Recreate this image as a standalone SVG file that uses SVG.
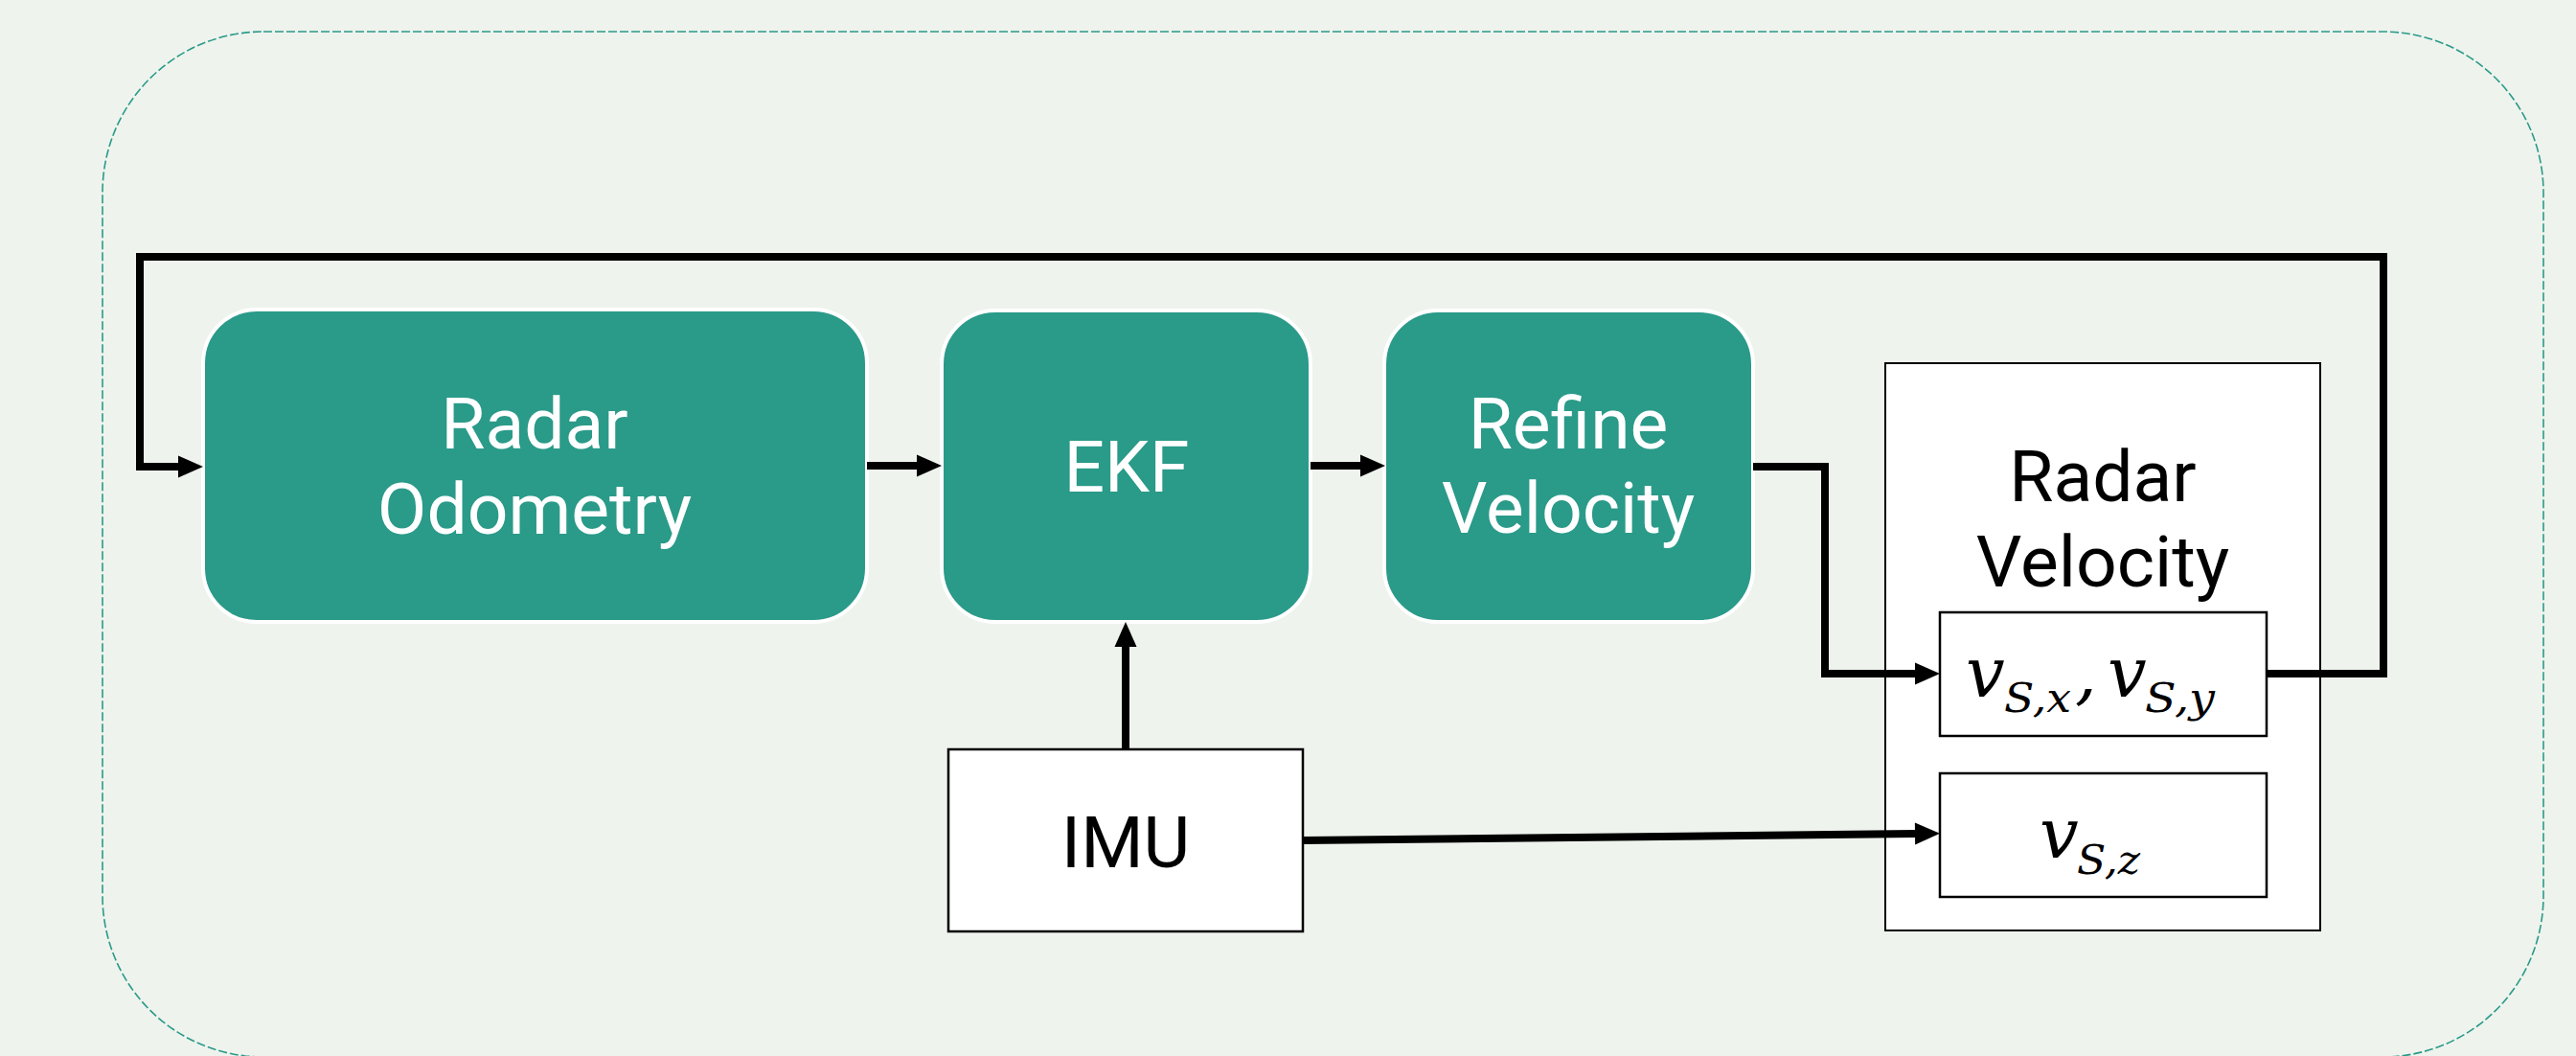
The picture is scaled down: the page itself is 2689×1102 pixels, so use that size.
<svg xmlns="http://www.w3.org/2000/svg" width="2689" height="1102" viewBox="0 0 2689 1102">
  <style>
    .proc { fill: #2A9A89; stroke: #FFFFFF; stroke-width: 4; }
    .plain { fill: #FFFFFF; stroke: #000000; stroke-width: 2.5; }
    .label { font-family: Roboto, "Liberation Sans", sans-serif; font-size: 75px; text-anchor: middle; }
    .light { fill: #FFFFFF; }
    .dark { fill: #000000; }
    .math { font-family: "DejaVu Serif", "Liberation Serif", serif; font-style: italic; fill: #000000; }
    .wire { fill: none; stroke: #000000; stroke-width: 8; stroke-linejoin: miter; stroke-linecap: butt; }
  </style>
  <defs>
    <marker id="head" markerUnits="userSpaceOnUse" markerWidth="27" markerHeight="24" refX="0" refY="11.5" orient="auto" overflow="visible">
      <path d="M0,0 L26,11.5 L0,23 Z" fill="#000000"/>
    </marker>
  </defs>

  <!-- background and dashed frame -->
  <rect x="0" y="0" width="2689" height="1102" fill="#EEF3ED"/>
  <rect x="107" y="33" width="2548" height="1070" rx="168" ry="168" fill="none" stroke="#2A9A89" stroke-width="1.6" stroke-dasharray="9 3"/>

  <g id="radar-odometry">
    <rect class="proc" x="212" y="323" width="693" height="326" rx="56" ry="56"/>
    <text class="label light" x="558" y="468">Radar</text>
    <text class="label light" x="558" y="557">Odometry</text>
  </g>

  <g id="ekf">
    <rect class="proc" x="983" y="324" width="385" height="325" rx="56" ry="56"/>
    <text class="label light" x="1176" y="513">EKF</text>
  </g>

  <g id="refine-velocity">
    <rect class="proc" x="1445" y="324" width="385" height="325" rx="56" ry="56"/>
    <text class="label light" x="1637" y="468">Refine</text>
    <text class="label light" x="1637" y="556">Velocity</text>
  </g>

  <g id="imu">
    <rect class="plain" x="990" y="782" width="370" height="190"/>
    <text class="label dark" x="1175" y="905" font-size="76">IMU</text>
  </g>

  <g id="radar-velocity">
    <rect x="1968" y="379" width="454" height="592" fill="#FFFFFF" stroke="#000000" stroke-width="2"/>
    <text class="label dark" x="2195" y="523">Radar</text>
    <text class="label dark" x="2195" y="612">Velocity</text>
  </g>

  <g id="v-sxy">
    <rect class="plain" x="2025" y="639" width="341" height="129"/>
    <text class="math" font-size="72">
      <tspan x="2052" y="727">v</tspan><tspan x="2092" y="743" font-size="42" textLength="70" lengthAdjust="spacingAndGlyphs">S,x</tspan><tspan x="2166" y="727">,</tspan><tspan x="2200" y="727">v</tspan><tspan x="2239" y="743" font-size="42" textLength="73" lengthAdjust="spacingAndGlyphs">S,y</tspan>
    </text>
  </g>

  <g id="v-sz">
    <rect class="plain" x="2025" y="807" width="341" height="129"/>
    <text class="math" font-size="72">
      <tspan x="2129" y="895">v</tspan><tspan x="2168" y="912" font-size="42" textLength="66" lengthAdjust="spacingAndGlyphs">S,z</tspan>
    </text>
  </g>

  <!-- connectors, drawn over the node boxes they cross -->
  <g id="connectors">
    <path class="wire" d="M905,486 H957" marker-end="url(#head)"/>
    <path class="wire" d="M1368,486 H1420" marker-end="url(#head)"/>
    <path class="wire" d="M1830,487 H1905 V703 H1999" marker-end="url(#head)"/>
    <path class="wire" d="M2366,703 H2488 V268 H146 V487 H186" marker-end="url(#head)"/>
    <path class="wire" d="M1175,782 V675" marker-end="url(#head)"/>
    <path class="wire" d="M1360,877 L1999,870" marker-end="url(#head)"/>
  </g>
</svg>
